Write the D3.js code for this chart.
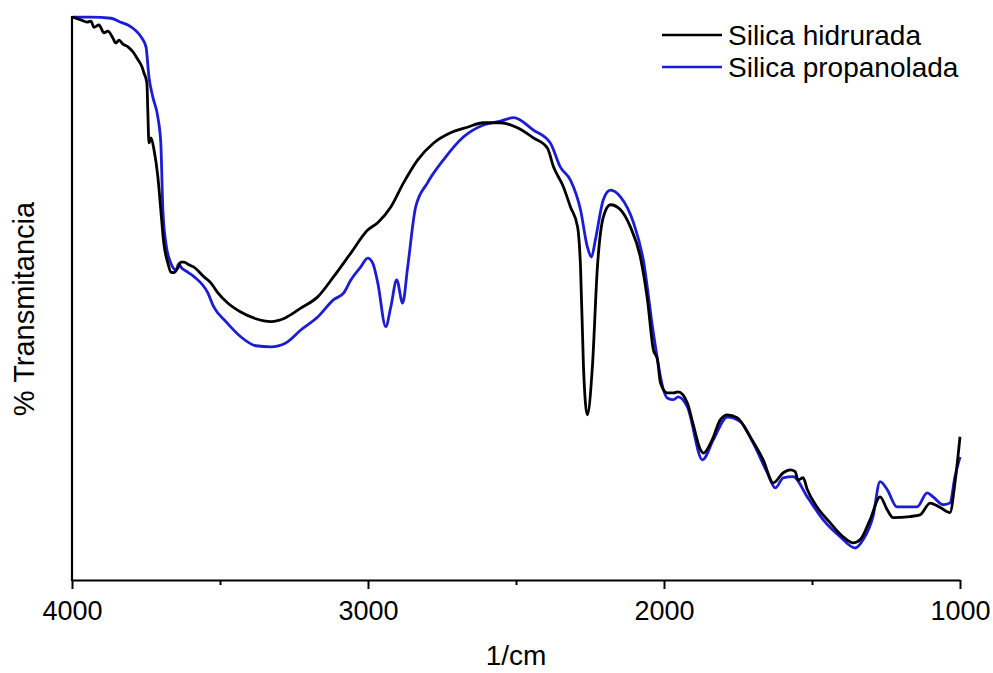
<!DOCTYPE html>
<html>
<head>
<meta charset="utf-8">
<script src="https://cdn.jsdelivr.net/npm/d3@7"></script>
<style>
  body { margin: 0; background: #fff; }
  svg { display: block; font-family: "Liberation Sans", Arial, sans-serif; }
</style>
</head>
<body>
<svg></svg>
<script>
const w = 993;
const h = 673;

// wavenumbers (1/cm) and transmittance
const hidWave = [3997,3970,3949,3936,3926,3909,3892,3879,3862,3852,3841,3828,3811,3794,3777,3764,3757,3747,3744,3740,3733,3723,3710,3700,3690,3676,3666,3656,3642,3632,3622,3605,3588,3555,3531,3507,3474,3430,3379,3328,3278,3227,3170,3116,3058,3001,2967,2923,2880,2832,2778,2721,2664,2610,2552,2495,2441,2394,2373,2340,2316,2292,2282,2272,2259,2242,2225,2205,2181,2147,2114,2080,2056,2036,2022,2012,1989,1968,1952,1921,1901,1877,1867,1837,1810,1786,1753,1709,1665,1631,1597,1574,1557,1547,1530,1516,1483,1439,1395,1361,1337,1304,1270,1246,1226,1169,1135,1101,1067,1034,1017,1000];
const hidVals = [99.8,99.3,98.9,99.1,98.0,98.4,97.0,97.3,96.1,95.2,95.7,95.0,94.5,93.6,92.2,91.0,89.9,88.1,83.3,77.4,78.3,76.2,71.4,65.5,59.6,56.0,54.4,54.3,55.2,56.2,56.2,55.7,55.3,53.6,52.5,50.7,48.9,47.3,46.1,45.6,46.3,48.0,50.0,53.6,57.8,61.9,63.2,66.0,70.3,74.4,77.4,79.2,80.2,81.0,81.0,80.1,78.3,76.5,73.1,69.6,66.0,62.5,55.3,37.5,29.0,37.5,55.3,64.2,66.4,65.5,62.5,57.1,49.5,40.6,38.8,34.7,32.9,32.9,33.1,31.1,27.2,22.8,22.2,24.6,28.1,29.0,28.5,25.1,21.0,16.9,18.7,19.2,18.9,17.4,17.8,15.7,12.6,9.8,7.3,6.2,6.8,10.3,14.4,12.1,10.7,10.9,11.2,13.3,12.5,11.6,16.9,25.1];

const propWave = [3997,3936,3868,3835,3811,3787,3767,3750,3740,3727,3710,3700,3693,3683,3666,3649,3639,3632,3609,3588,3541,3521,3480,3430,3379,3328,3278,3227,3170,3116,3082,3058,3025,3001,2984,2967,2940,2923,2903,2883,2866,2839,2799,2745,2677,2610,2552,2508,2441,2384,2350,2316,2282,2259,2245,2232,2205,2181,2147,2103,2070,2036,2002,1989,1968,1952,1921,1870,1833,1786,1742,1699,1651,1624,1597,1564,1516,1462,1405,1354,1327,1294,1270,1246,1213,1145,1111,1091,1057,1034,1017,1000];
const propVals = [99.8,99.8,99.6,98.9,98.4,97.5,96.3,94.5,89.1,85.6,82.0,77.4,65.5,59.6,56.0,54.8,55.9,55.3,54.4,53.6,50.7,48.2,45.6,42.9,41.3,41.1,41.8,44.1,46.4,49.5,50.7,53.0,55.3,56.9,56.0,52.5,44.7,48.2,53.0,48.9,55.3,66.0,70.3,74.4,78.5,80.6,81.3,81.9,79.7,77.4,73.1,70.8,65.5,58.9,57.1,60.1,67.3,69.0,67.8,63.2,56.6,43.6,33.5,32.0,31.7,32.2,30.4,21.0,24.6,28.6,27.8,24.0,18.7,16.0,17.8,18.0,14.4,10.3,7.3,5.3,6.8,10.9,17.1,15.7,12.6,12.6,15.1,14.4,13.0,13.3,18.0,21.5];

const seriesNames = ['Silica hidrurada', 'Silica propanolada'];
const seriesColors = ['#000000', '#1c1cd4'];
const majorTicks = [4000, 3000, 2000, 1000];
const minorTicks = [3500, 2500, 1500];

const series = [
    { name: seriesNames[0], color: seriesColors[0], pts: hidWave.map((d, i) => [d, hidVals[i]]) },
    { name: seriesNames[1], color: seriesColors[1], pts: propWave.map((d, i) => [d, propVals[i]]) }
];

const svg = d3.select('svg')
    .attr('width', w)
    .attr('height', h);

// scales
const xScale = d3.scaleLinear()
    .domain([4000, 1000])
    .range([72, 960]);
const yScale = d3.scaleLinear()
    .domain([-0.4, 100])
    .range([580, 16]);

// curves
const line = d3.line()
    .x(d => xScale(d[0]))
    .y(d => yScale(d[1]))
    .curve(d3.curveMonotoneX);

// draw blue first so black sits on it where they overlap at the start
[series[1], series[0]].forEach(s => {
    svg.append('path')
        .datum(s.pts)
        .attr('fill', 'none')
        .attr('stroke', s.color)
        .attr('stroke-width', 2.8)
        .attr('stroke-linejoin', 'round')
        .attr('d', line);
});

// x axis
const xAxis = svg.append('g')
    .attr('transform', 'translate(0,' + yScale(-0.4) + ')')
    .call(d3.axisBottom(xScale).tickValues(majorTicks).tickSize(9).tickSizeOuter(0).tickFormat(d3.format('d')));
xAxis.select('.domain').attr('stroke-width', 2.2);
xAxis.selectAll('.tick line').attr('stroke-width', 2);
xAxis.selectAll('.tick text')
    .attr('font-size', 27)
    .attr('font-family', '"Liberation Sans", Arial, sans-serif')
    .attr('dy', '1.05em');

svg.append('g')
    .attr('transform', 'translate(0,' + yScale(-0.4) + ')')
    .call(d3.axisBottom(xScale).tickValues(minorTicks).tickSize(5).tickSizeOuter(0).tickFormat(''))
    .call(g => g.select('.domain').remove())
    .selectAll('.tick line').attr('stroke-width', 2);

// y axis, no ticks
svg.append('line')
    .attr('x1', xScale(4000)).attr('x2', xScale(4000))
    .attr('y1', 16).attr('y2', yScale(-0.4) + 1)
    .attr('stroke', '#000')
    .attr('stroke-width', 2.2);

// axis titles
svg.append('text')
    .attr('x', 516)
    .attr('y', 665)
    .attr('text-anchor', 'middle')
    .attr('font-size', 28)
    .text('1/cm');

svg.append('text')
    .attr('transform', 'translate(34,309) rotate(-90)')
    .attr('text-anchor', 'middle')
    .attr('font-size', 29)
    .text('% Transmitancia');

// legend
const legend = svg.append('g');
series.forEach((s, i) => {
    const ly = 35 + i * 32;
    legend.append('line')
        .attr('x1', 662).attr('x2', 722)
        .attr('y1', ly).attr('y2', ly)
        .attr('stroke', s.color)
        .attr('stroke-width', 2.6);
    legend.append('text')
        .attr('x', 728)
        .attr('y', ly + 10)
        .attr('font-size', 28)
        .text(s.name);
});
</script>
</body>
</html>
